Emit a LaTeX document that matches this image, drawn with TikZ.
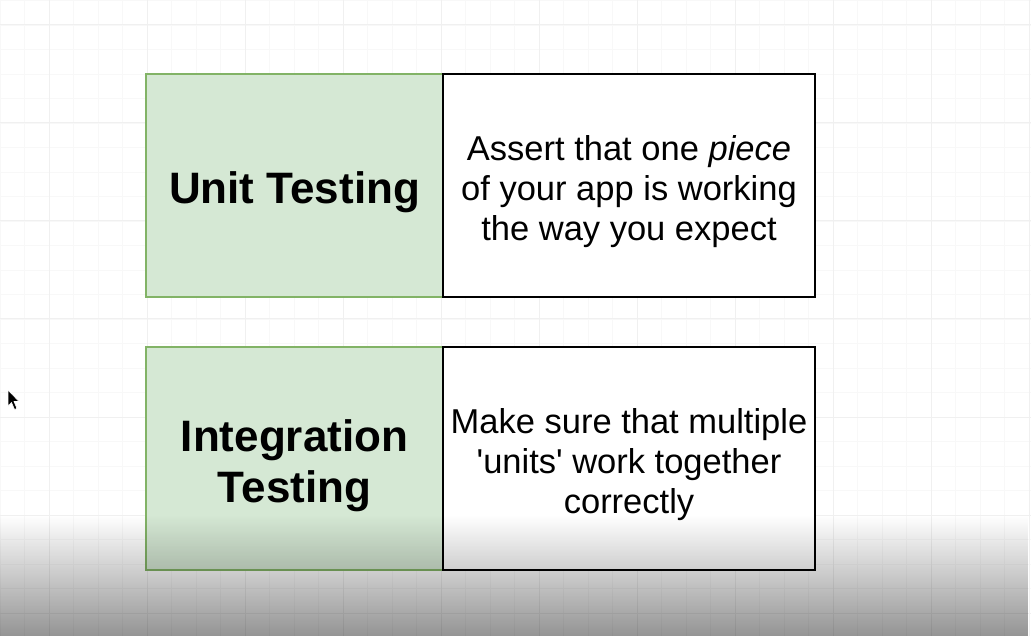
\documentclass[tikz,border=0pt]{standalone}
\usepackage{fontspec}
\setmainfont{Liberation Sans}
\usetikzlibrary{fadings}
\definecolor{gfill}{HTML}{D5E8D4}
\definecolor{gline}{HTML}{82B366}
\definecolor{minorgrid}{HTML}{F8F8F8}
\definecolor{majorgrid}{HTML}{F0F0F0}
\tikzfading[name=fadedown, top color=transparent!100, bottom color=transparent!0]
\tikzset{
  termbox/.style={draw=gline, fill=gfill, line width=2pt, minimum width=297pt, minimum height=223pt, inner sep=0pt},
  descbox/.style={draw=black, fill=white, line width=2pt, minimum width=372pt, minimum height=223pt, inner sep=0pt},
  termtext/.style={inner sep=0pt, align=center, font=\fontsize{44}{51}\selectfont\bfseries},
  desctext/.style={inner sep=0pt, align=center, font=\fontsize{34.5}{40}\selectfont},
}
\begin{document}
\begin{tikzpicture}[x=1pt,y=-1pt]
\useasboundingbox (0,0) rectangle (1031,636);
\fill[white] (0,0) rectangle (1031,636);
% grid
\foreach \i in {0,...,42} {
  \pgfmathsetmacro\xx{0.0+24.5*\i}
  \draw[minorgrid, line width=0.8pt] (\xx,0) -- (\xx,636);
}
\foreach \i in {0,...,26} {
  \pgfmathsetmacro\yy{0.5+24.5*\i}
  \draw[minorgrid, line width=0.8pt] (0,\yy) -- (1031,\yy);
}
\foreach \i in {0,...,10} {
  \pgfmathsetmacro\xx{49+98*\i}
  \draw[majorgrid, line width=1pt] (\xx,0) -- (\xx,636);
}
\foreach \i in {0,...,6} {
  \pgfmathsetmacro\yy{25+98*\i}
  \draw[majorgrid, line width=1pt] (0,\yy) -- (1031,\yy);
}
% boxes
\node[termbox] (unit) at (294.5,185.5) {};
\node[descbox] (unitdesc) at (629,185.5) {};
\node[termbox] (integ) at (294.5,458.5) {};
\node[descbox] (integdesc) at (629,458.5) {};
% texts
\node[termtext] (unitlabel) at ([yshift=-7pt]unit.center) {Unit Testing};
\node[desctext] (unitdesclabel) at ([yshift=-6pt]unitdesc.center) {Assert that one \textit{piece}\\of your app is working\\the way you expect};
\node[termtext] (integlabel) at ([yshift=-7pt]integ.center) {Integration\\Testing};
\node[desctext] (integdesclabel) at ([yshift=-6pt]integdesc.center) {Make sure that multiple\\\textquotesingle units\textquotesingle{} work together\\correctly};
% cursor
\filldraw[fill=black, draw=white, line width=0.6pt] (8,390) -- (8,406) -- (11.5,402.5) -- (14.5,409.5) -- (17,408.5) -- (14,401.5) -- (19,401.5) -- cycle;
% bottom shading overlay
\fill[black, opacity=0.42, path fading=fadedown] (0,515) rectangle (1031,636);
\end{tikzpicture}
\end{document}
